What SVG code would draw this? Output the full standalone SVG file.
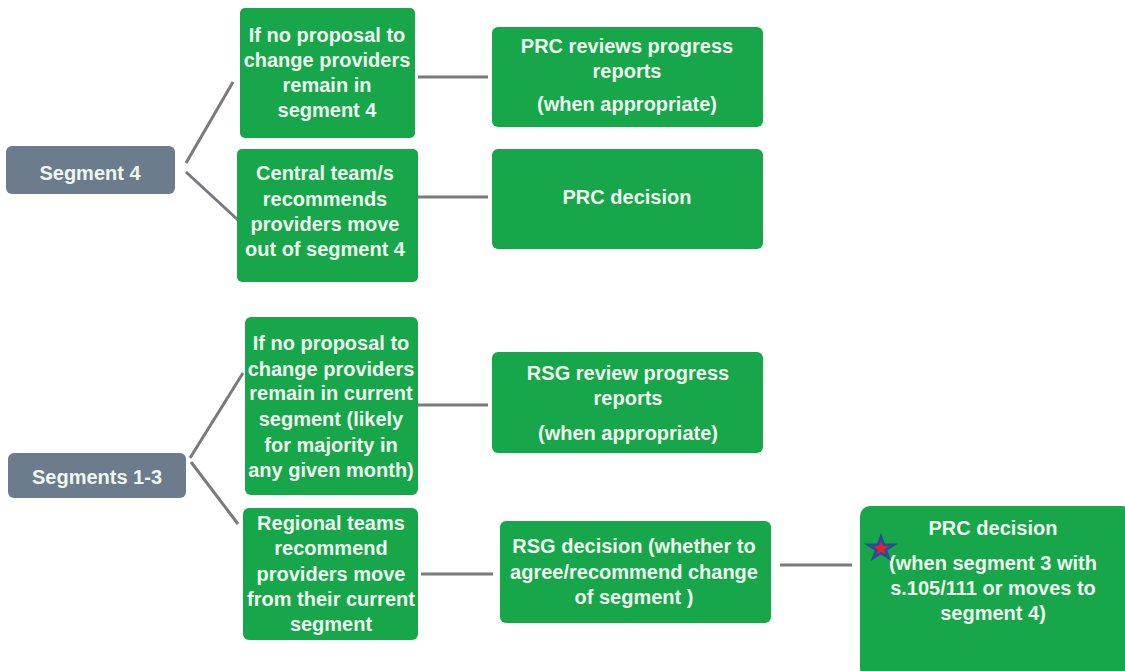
<svg xmlns="http://www.w3.org/2000/svg" width="1125" height="671" viewBox="0 0 1125 671">
<style>
.g{fill:#17a64a}
.s{fill:#6c7c8c}
.t{font-family:"Liberation Sans",Arial,sans-serif;font-weight:bold;font-size:20px;fill:#eef8ee;text-anchor:middle}
.c{stroke:#7a7a7e;stroke-width:3;fill:none}
</style>
<rect width="1125" height="671" fill="#ffffff"/>
<g id="connectors">
<line class="c" x1="186" y1="163" x2="233" y2="82"/>
<line class="c" x1="186" y1="172" x2="238" y2="220"/>
<line class="c" x1="190" y1="458" x2="243" y2="373"/>
<line class="c" x1="191" y1="462" x2="238" y2="524"/>
<line class="c" x1="418" y1="77" x2="488" y2="77"/>
<line class="c" x1="418" y1="197" x2="488" y2="197"/>
<line class="c" x1="418" y1="405" x2="488" y2="405"/>
<line class="c" x1="421" y1="574" x2="493" y2="574"/>
<line class="c" x1="780" y1="565" x2="852" y2="565"/>
</g>
<g id="seg4">
<rect class="s" x="6" y="146" width="169" height="48" rx="6"/>
<text class="t" x="90" y="180">Segment 4</text>
</g>
<g id="seg13">
<rect class="s" x="8" y="453" width="178" height="45" rx="6"/>
<text class="t" x="97" y="484">Segments 1-3</text>
</g>
<g id="a">
<rect class="g" x="240" y="8" width="175" height="130" rx="5"/>
<text class="t" x="327" y="42">If no proposal to</text>
<text class="t" x="327" y="67">change providers</text>
<text class="t" x="327" y="92">remain in</text>
<text class="t" x="327" y="117">segment 4</text>
</g>
<g id="b">
<rect class="g" x="237" y="149" width="181" height="133" rx="5"/>
<text class="t" x="325" y="180">Central team/s</text>
<text class="t" x="325" y="206">recommends</text>
<text class="t" x="325" y="231">providers move</text>
<text class="t" x="325" y="256">out of segment 4</text>
</g>
<g id="c">
<rect class="g" x="492" y="27" width="271" height="100" rx="6"/>
<text class="t" x="627" y="53">PRC reviews progress</text>
<text class="t" x="627" y="78">reports</text>
<text class="t" x="627" y="111">(when appropriate)</text>
</g>
<g id="d">
<rect class="g" x="492" y="149" width="271" height="100" rx="6"/>
<text class="t" x="627" y="204">PRC decision</text>
</g>
<g id="e">
<rect class="g" x="245" y="317" width="173" height="178" rx="6"/>
<text class="t" x="331" y="350">If no proposal to</text>
<text class="t" x="331" y="376">change providers</text>
<text class="t" x="331" y="400">remain in current</text>
<text class="t" x="331" y="426">segment (likely</text>
<text class="t" x="331" y="452">for majority in</text>
<text class="t" x="331" y="477">any given month)</text>
</g>
<g id="f">
<rect class="g" x="243" y="508" width="175" height="132" rx="6"/>
<text class="t" x="331" y="530">Regional teams</text>
<text class="t" x="331" y="555">recommend</text>
<text class="t" x="331" y="581">providers move</text>
<text class="t" x="331" y="606">from their current</text>
<text class="t" x="331" y="631">segment</text>
</g>
<g id="g">
<rect class="g" x="492" y="352" width="271" height="101" rx="6"/>
<text class="t" x="628" y="380">RSG review progress</text>
<text class="t" x="628" y="405">reports</text>
<text class="t" x="628" y="440">(when appropriate)</text>
</g>
<g id="h">
<rect class="g" x="500" y="521" width="271" height="102" rx="6"/>
<text class="t" x="634" y="553">RSG decision (whether to</text>
<text class="t" x="634" y="579">agree/recommend change</text>
<text class="t" x="634" y="604">of segment )</text>
</g>
<g id="i">
<rect class="g" x="860" y="506" width="272" height="172" rx="10"/>
<text class="t" x="993" y="535">PRC decision</text>
<text class="t" x="993" y="570">(when segment 3 with</text>
<text class="t" x="993" y="595">s.105/111  or moves to</text>
<text class="t" x="993" y="620">segment 4)</text>
</g>
<g id="star">
<polygon points="881,533 884.9,543.6 898,543.6 887.4,550.6 891.3,561 881,554.4 870.7,561 874.6,550.6 864,543.6 877.1,543.6" fill="#2b4b9b"/>
<polygon points="881,541 883,546 888.5,546 884,549.5 885.5,554.5 881,551.5 876.5,554.5 878,549.5 873.5,546 879,546" fill="#e8202c"/>
</g>
</svg>
